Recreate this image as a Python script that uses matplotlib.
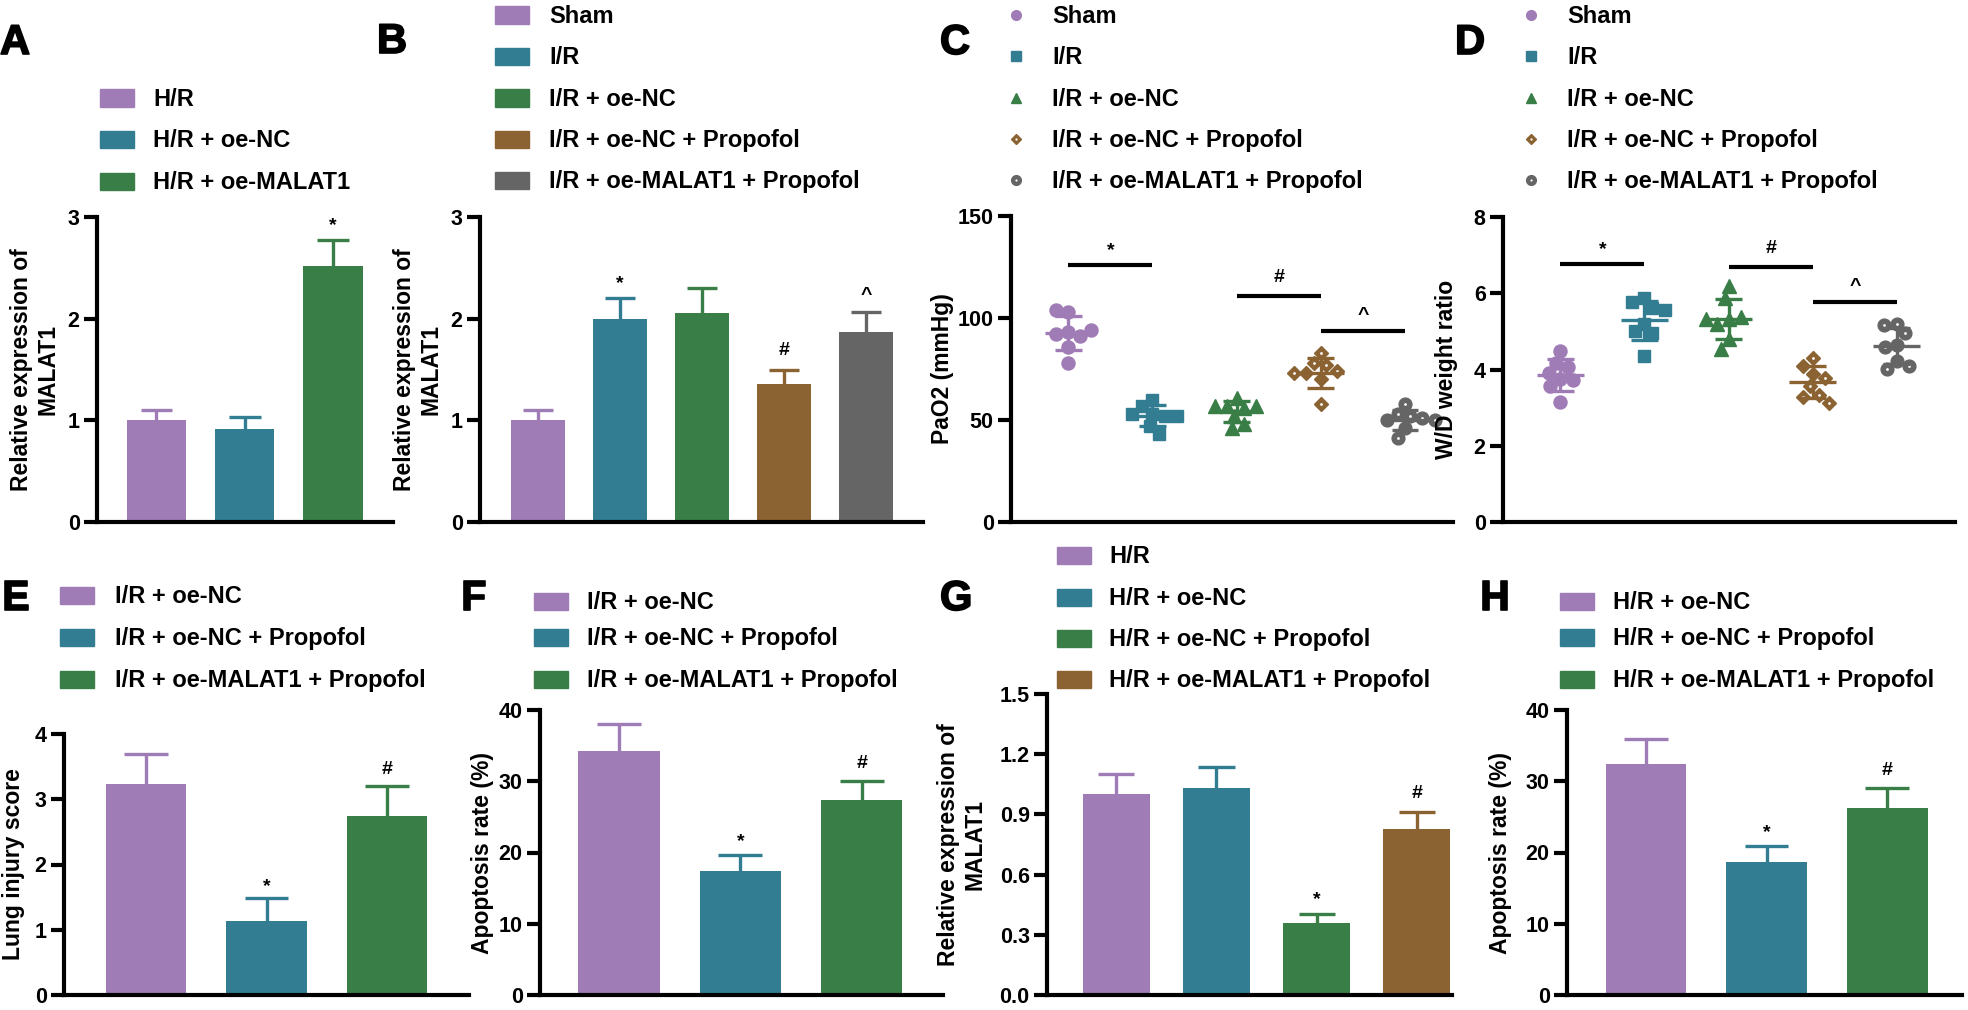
import numpy as np
import matplotlib
matplotlib.use("Agg")
import matplotlib.pyplot as plt
from matplotlib.patches import Rectangle
from matplotlib.lines import Line2D
import matplotlib.patheffects as pe

# ---------------- data ----------------
a_groups = ["H/R", "H/R + oe-NC", "H/R + oe-MALAT1"]
a_mean = [1.00, 0.91, 2.52]
a_err = [0.10, 0.12, 0.25]
a_marks = ["", "", "*"]

b_groups = ["Sham", "I/R", "I/R + oe-NC", "I/R + oe-NC + Propofol",
            "I/R + oe-MALAT1 + Propofol"]
b_mean = [1.00, 2.00, 2.06, 1.36, 1.87]
b_err = [0.10, 0.20, 0.24, 0.14, 0.20]
b_marks = ["", "*", "", "#", "^"]

# PaO2 (mmHg), 8 animals per group
c_sham = [103, 104, 93, 92, 91, 94, 86, 78]
c_ir = [60, 53, 57, 52, 53, 52, 47, 43]
c_ir_nc = [61, 57, 56, 57, 57, 52, 48, 46]
c_ir_nc_prop = [83, 78, 77, 74, 73, 73, 70, 58]
c_ir_malat1_prop = [58, 53, 52, 51, 50, 50, 46, 41]
c_sigs = [(0, 1, "*"), (2, 3, "#"), (3, 4, "^")]

# W/D weight ratio
d_sham = [4.49, 4.18, 4.06, 3.91, 3.76, 3.73, 3.56, 3.14]
d_ir = [5.87, 5.78, 5.62, 5.55, 5.20, 5.00, 4.95, 4.35]
d_ir_nc = [6.18, 5.87, 5.33, 5.20, 5.38, 5.33, 4.80, 4.53]
d_ir_nc_prop = [4.31, 4.09, 3.88, 3.78, 3.56, 3.33, 3.29, 3.11]
d_ir_malat1_prop = [5.20, 5.17, 4.95, 4.65, 4.60, 4.22, 4.02, 4.10]
d_sigs = [(0, 1, "*"), (2, 3, "#"), (3, 4, "^")]

e_groups = ["I/R + oe-NC", "I/R + oe-NC + Propofol", "I/R + oe-MALAT1 + Propofol"]
e_mean = [3.23, 1.13, 2.74]
e_err = [0.47, 0.35, 0.47]
e_marks = ["", "*", "#"]

f_groups = ["I/R + oe-NC", "I/R + oe-NC + Propofol", "I/R + oe-MALAT1 + Propofol"]
f_mean = [34.2, 17.4, 27.4]
f_err = [3.9, 2.2, 2.6]
f_marks = ["", "*", "#"]

g_groups = ["H/R", "H/R + oe-NC", "H/R + oe-NC + Propofol", "H/R + oe-MALAT1 + Propofol"]
g_mean = [1.00, 1.033, 0.358, 0.825]
g_err = [0.10, 0.105, 0.045, 0.087]
g_marks = ["", "", "*", "#"]

h_groups = ["H/R + oe-NC", "H/R + oe-NC + Propofol", "H/R + oe-MALAT1 + Propofol"]
h_mean = [32.4, 18.7, 26.3]
h_err = [3.5, 2.2, 2.8]
h_marks = ["", "*", "#"]

# ---------------- style ----------------
PURPLE = "#A07CB6"
TEAL = "#337D92"
GREEN = "#3A7E47"
BROWN = "#8B6232"
GREY = "#656565"

plt.rcParams["font.family"] = ["Liberation Sans", "DejaVu Sans"]
plt.rcParams["font.weight"] = "bold"
plt.rcParams["axes.labelweight"] = "bold"

W, H = 1968, 1010
fig = plt.figure(figsize=(W / 100, H / 100), dpi=100)

TICK_FS = 15.5
LABEL_FS = 16.5
LEG_FS = 17
MARK_FS = 14
LW = 3.0
ELW = 2.4
# shift (points) so the ink of each symbol sits centred on its anchor
GLYPH_SHIFT = {"*": -4.3, "#": -1.4, "^": -3.6}


def px(x):
    return x / W


def py(y):
    return 1 - y / H


def add_ax(rect):
    left, top, right, bottom = rect
    return fig.add_axes([px(left), py(bottom), (right - left) / W, (bottom - top) / H])


def style_axes(ax, rect, xlim, ylim, yticks, fmt, ylabel, label_x):
    ax.set_xlim(*xlim)
    ax.set_ylim(*ylim)
    ax.set_yticks(yticks)
    ax.set_yticklabels([fmt.format(t) for t in yticks], fontweight="bold", fontsize=TICK_FS)
    ax.set_xticks([])
    for s in ["top", "right"]:
        ax.spines[s].set_visible(False)
    for s in ["left", "bottom"]:
        ax.spines[s].set_linewidth(LW)
        ax.spines[s].set_capstyle("projecting")
    ax.tick_params(axis="y", length=9.5, width=LW, pad=3)
    ax.patch.set_alpha(0)
    ax.set_ylabel(ylabel, fontsize=LABEL_FS, fontweight="bold", ha="center", va="center",
                  linespacing=1.2)
    ax.yaxis.set_label_coords((label_x - rect[0]) / (rect[2] - rect[0]), 0.5)


def bar_panel(rect, xlim, ylim, yticks, fmt, means, errs, colors, marks, ylabel, label_x):
    ax = add_ax(rect)
    x = np.arange(len(means))
    width = 0.67
    cap = width * 0.27
    ax.bar(x, means, width=width, color=colors, zorder=2)
    # upper error bars only
    for xi, m, e, c in zip(x, means, errs, colors):
        ax.vlines(xi, m, m + e, color=c, lw=ELW, zorder=1)
        ax.hlines(m + e, xi - cap, xi + cap, color=c, lw=ELW, zorder=1)
    top = ylim[1]
    for xi, m, e, s in zip(x, means, errs, marks):
        if s:
            ax.annotate(s, (xi, m + e + 0.068 * top), xytext=(0, GLYPH_SHIFT[s]),
                        textcoords="offset points", ha="center", va="center",
                        fontsize=MARK_FS, fontweight="bold")
    style_axes(ax, rect, xlim, ylim, yticks, fmt, ylabel, label_x)
    return ax


def swarm(vals, diam, ppu_y):
    placed = []
    offs = []
    for v in vals:
        y = v * ppu_y
        forbidden = []
        for xo, yo in placed:
            dy = abs(y - yo)
            if dy < diam:
                dx = np.sqrt(diam ** 2 - dy ** 2)
                forbidden.append((xo - dx, xo + dx))
        cands = [0.0] + [a for a, b in forbidden] + [b for a, b in forbidden]
        cands.sort(key=abs)
        for c in cands:
            if all(not (a + 1e-6 < c < b - 1e-6) for a, b in forbidden):
                break
        placed.append((c, y))
        offs.append(c)
    return np.array(offs)


SC_MARKERS = ["o", "s", "^", "D", "o"]
SC_SIZES = [9.4, 9.0, 9.4, 7.4, 9.2]
SC_COLORS = [PURPLE, TEAL, GREEN, BROWN, GREY]


def scatter_panel(rect, xlim, ylim, yticks, fmt, groups, sigs, sig_y, ylabel, label_x):
    ax = add_ax(rect)
    ppu_x = (rect[2] - rect[0]) / (xlim[1] - xlim[0])
    ppu_y = (rect[3] - rect[1]) / (ylim[1] - ylim[0])
    for i, (vals, m, ms, c) in enumerate(zip(groups, SC_MARKERS, SC_SIZES, SC_COLORS)):
        vals = np.asarray(vals, dtype=float)
        xs = i + swarm(vals, 12.5, ppu_y) / ppu_x
        ax.plot(xs, vals, ls="none", marker=m, ms=ms, color=c, mec=c, zorder=3, clip_on=False)
        if i >= 3:
            ax.plot(xs, vals, ls="none", marker="o", ms=2.0, color="white", mec="white",
                    mew=0, zorder=3.5, clip_on=False)
        mu, sd = vals.mean(), vals.std(ddof=1)
        ax.hlines(mu, i - 0.28, i + 0.28, color=c, lw=ELW, zorder=4)
        ax.hlines([mu - sd, mu + sd], i - 0.16, i + 0.16, color=c, lw=ELW, zorder=4)
        ax.vlines(i, mu - sd, mu + sd, color=c, lw=ELW, zorder=4)
    top = ylim[1]
    for (i, j, s), yv in zip(sigs, sig_y):
        ax.hlines(yv, i, j, color="black", lw=LW)
        ax.annotate(s, ((i + j) / 2, yv + 0.068 * top), xytext=(0, GLYPH_SHIFT[s]),
                    textcoords="offset points", ha="center", va="center",
                    fontsize=MARK_FS, fontweight="bold")
    style_axes(ax, rect, xlim, ylim, yticks, fmt, ylabel, label_x)
    return ax


def patch_legend(x_patch, x_text, rows, labels, colors):
    cap = LEG_FS / 0.72 * 0.716
    for y, lab, col in zip(rows, labels, colors):
        fig.patches.append(Rectangle((px(x_patch), py(y + 8.5)), 34 / W, 17 / H,
                                     transform=fig.transFigure, color=col))
        fig.text(px(x_text), py(y + cap / 2), lab, fontsize=LEG_FS, fontweight="bold",
                 va="baseline", ha="left")


def marker_legend(x_mark, x_text, rows, labels):
    cap = LEG_FS / 0.72 * 0.716
    for k, (y, lab) in enumerate(zip(rows, labels)):
        m, c = SC_MARKERS[k], SC_COLORS[k]
        ms = 5.6 if m == "D" else 7
        fig.add_artist(Line2D([px(x_mark)], [py(y)], marker=m, ms=ms, color=c, mec=c,
                              ls="none", transform=fig.transFigure))
        if k >= 3:
            fig.add_artist(Line2D([px(x_mark)], [py(y)], marker="o", ms=1.6, color="white",
                                  mec="white", mew=0, ls="none", transform=fig.transFigure))
        fig.text(px(x_text), py(y + cap / 2), lab, fontsize=LEG_FS, fontweight="bold",
                 va="baseline", ha="left")


def panel_letter(x, y, s):
    fig.text(px(x), py(y), s, fontsize=30, fontweight="bold", va="baseline", ha="left",
             path_effects=[pe.withStroke(linewidth=1.2, foreground="black")])


REL = "Relative expression of\nMALAT1"

# ---------------- A ----------------
bar_panel((97, 217, 393, 522), (-0.674, 2.68), (0, 3), [0, 1, 2, 3], "{:g}",
          a_mean, a_err, [PURPLE, TEAL, GREEN], a_marks, REL, 35)
patch_legend(100, 153, [98, 139, 181], a_groups, [PURPLE, TEAL, GREEN])
panel_letter(0, 54, "A")

# ---------------- B ----------------
bar_panel((480, 217, 923, 522), (-0.707, 4.695), (0, 3), [0, 1, 2, 3], "{:g}",
          b_mean, b_err, [PURPLE, TEAL, GREEN, BROWN, GREY], b_marks, REL, 418)
top_rows = [15, 56, 98, 139, 180]
patch_legend(495, 549, top_rows, b_groups, [PURPLE, TEAL, GREEN, BROWN, GREY])
panel_letter(377, 53, "B")

# ---------------- C ----------------
scatter_panel((1011, 216, 1453, 522), (-0.68, 4.57), (0, 150), [0, 50, 100, 150], "{:g}",
              [c_sham, c_ir, c_ir_nc, c_ir_nc_prop, c_ir_malat1_prop],
              c_sigs, [126, 110.7, 93.4], "PaO2 (mmHg)", 943)
marker_legend(1016, 1052, top_rows, b_groups)
panel_letter(940, 54, "C")

# ---------------- D ----------------
scatter_panel((1503, 217, 1955, 522), (-0.68, 4.69), (0, 8), [0, 2, 4, 6, 8], "{:g}",
              [d_sham, d_ir, d_ir_nc, d_ir_nc_prop, d_ir_malat1_prop],
              d_sigs, [6.76, 6.69, 5.76], "W/D weight ratio", 1446)
marker_legend(1531, 1567, top_rows, b_groups)
panel_letter(1455, 54, "D")

# ---------------- E ----------------
bar_panel((64, 734, 469, 995), (-0.68, 2.68), (0, 4), [0, 1, 2, 3, 4], "{:g}",
          e_mean, e_err, [PURPLE, TEAL, GREEN], e_marks, "Lung injury score", 14)
patch_legend(60, 115, [595, 637, 679], e_groups, [PURPLE, TEAL, GREEN])
panel_letter(2, 610, "E")

# ---------------- F ----------------
bar_panel((540, 710, 943, 995), (-0.65, 2.67), (0, 40), [0, 10, 20, 30, 40], "{:g}",
          f_mean, f_err, [PURPLE, TEAL, GREEN], f_marks, "Apoptosis rate (%)", 483)
patch_legend(534, 587, [601, 637, 679], f_groups, [PURPLE, TEAL, GREEN])
panel_letter(461, 610, "F")

# ---------------- G ----------------
bar_panel((1047, 694, 1452, 995), (-0.69, 3.35), (0, 1.5), [0, 0.3, 0.6, 0.9, 1.2, 1.5], "{:.1f}",
          g_mean, g_err, [PURPLE, TEAL, GREEN, BROWN], g_marks, REL, 962)
patch_legend(1057, 1109, [555, 597, 638, 679], g_groups, [PURPLE, TEAL, GREEN, BROWN])
panel_letter(940, 610, "G")

# ---------------- H ----------------
bar_panel((1567, 710, 1962, 995), (-0.656, 2.62), (0, 40), [0, 10, 20, 30, 40], "{:g}",
          h_mean, h_err, [PURPLE, TEAL, GREEN], h_marks, "Apoptosis rate (%)", 1501)
patch_legend(1560, 1613, [601, 637, 679], h_groups, [PURPLE, TEAL, GREEN])
panel_letter(1480, 610, "H")

fig.savefig("out.png", dpi=100, facecolor="white")
